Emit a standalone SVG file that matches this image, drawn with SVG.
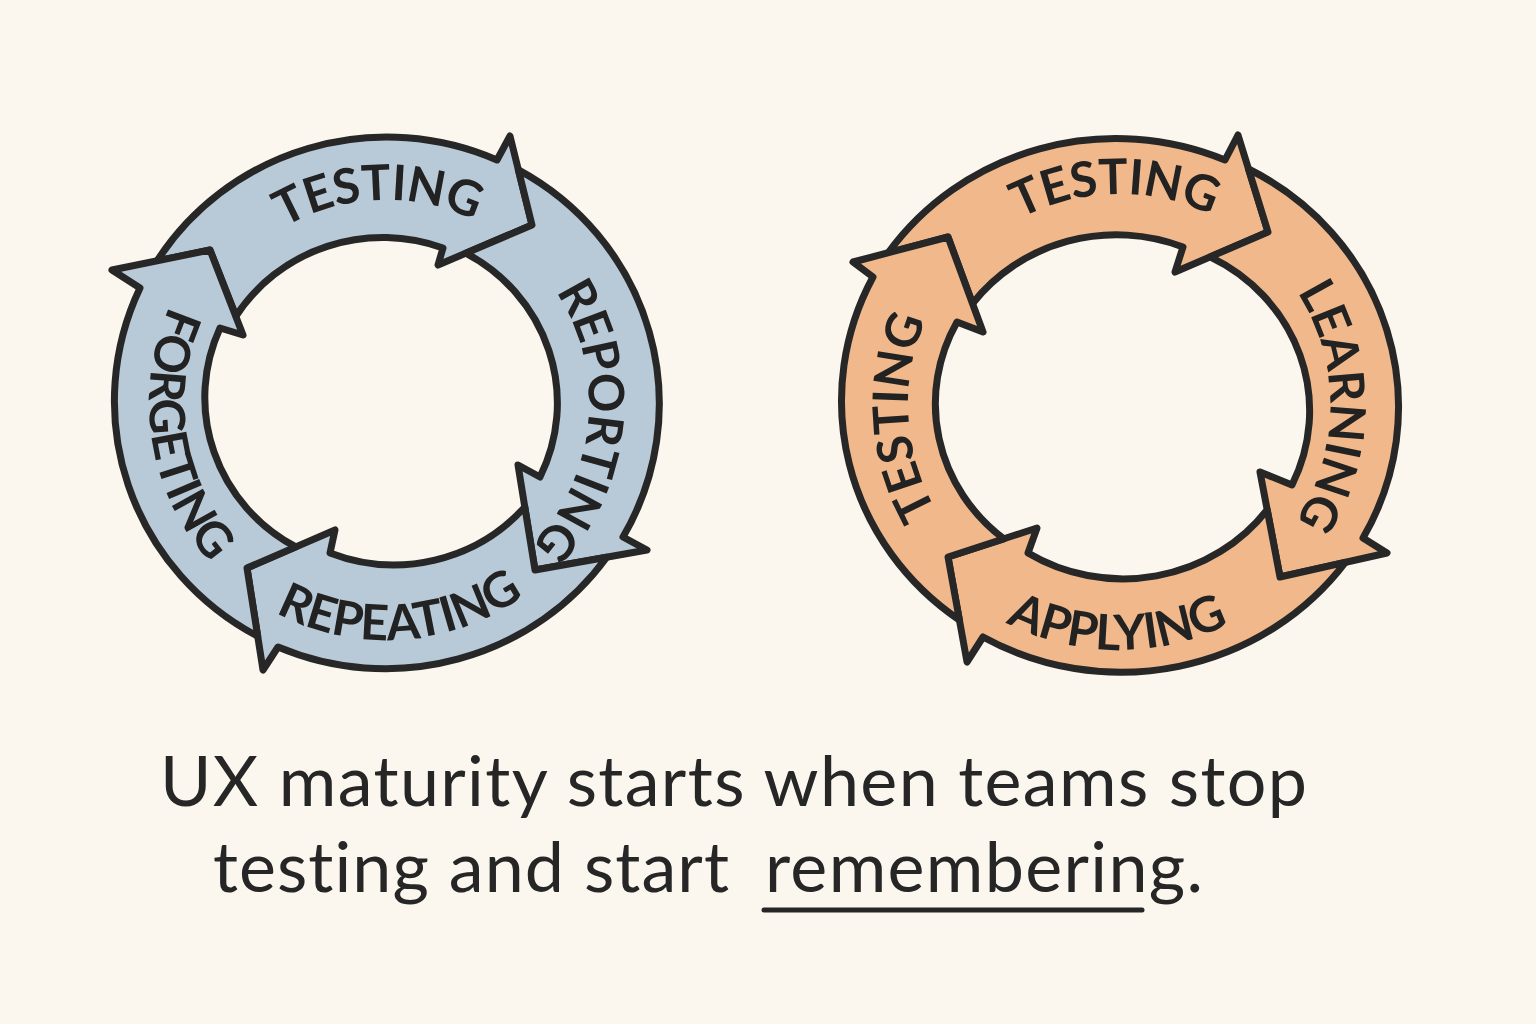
<svg xmlns="http://www.w3.org/2000/svg" width="1536" height="1024" viewBox="0 0 1536 1024">
  <style>
    .arrow { stroke: #272727; stroke-width: 7; stroke-linejoin: round; stroke-linecap: round; }
    .blue { fill: #b8cad8; }
    .orange { fill: #f1b98b; }
    .lbl { font-family: Lato, "Open Sans", "Liberation Sans", sans-serif; font-weight: 700; font-size: 49px; fill: #222222; letter-spacing: -0.5px; }
    .caption { font-family: Lato, "Open Sans", "Liberation Sans", sans-serif; font-size: 70px; fill: #262626; font-variant-ligatures: none; }
  </style>
  <defs>
    <path id="p-l-testing" d="M206.4,308.3 A203,203 0 0 1 557.8,294.8"/>
    <path id="p-l-reporting" d="M503.3,237.3 A203,203 0 0 1 470.8,587.4"/>
    <path id="p-l-repeating" d="M189.1,534.8 A237,237 0 0 0 598.7,507.6"/>
    <path id="p-l-forgeting" d="M236.9,218.8 A237,237 0 0 0 301.1,624.3"/>
    <path id="p-r-testing-top" d="M934.3,303 A211,211 0 0 1 1299.7,296"/>
    <path id="p-r-learning" d="M1225.5,222.8 A211,211 0 0 1 1223.6,588.3"/>
    <path id="p-r-applying" d="M905.8,525.6 A245,245 0 0 0 1330.1,529.3"/>
    <path id="p-r-testing-left" d="M1024.2,593.5 A211,211 0 0 1 1003.2,228.6"/>
  </defs>
  <rect x="0" y="0" width="1536" height="1024" fill="#fbf7ee"/>

  <g id="left-cycle">
    <g id="l-testing">
      <path class="arrow blue" d="M157,261 A272,267 0 0 1 497,160 L510,136 L532,225 L438,265 L443,248 A174,170 0 0 0 236,316 L210,250 Z"/>
      <text class="lbl"><textPath href="#p-l-testing" startOffset="50%" text-anchor="middle">TESTING</textPath></text>
    </g>
    <g id="l-reporting">
      <path class="arrow blue" d="M518.4,169.8 A272,267 0 0 1 623,537 L647,550 L535,570 L518,465 L540,477 A174,170 0 0 0 465.8,253.2 L532,225 Z"/>
      <text class="lbl"><textPath href="#p-l-reporting" startOffset="50%" text-anchor="middle">REPORTING</textPath></text>
    </g>
    <g id="l-repeating">
      <path class="arrow blue" d="M606.7,557.2 A272,267 0 0 1 278,647 L263,670 L247,568 L335,530 L330,553 A174,170 0 0 0 524.8,507 L535,570 Z"/>
      <text class="lbl"><textPath href="#p-l-repeating" startOffset="50%" text-anchor="middle">REPEATING</textPath></text>
    </g>
    <g id="l-forgeting">
      <path class="arrow blue" d="M257.7,636.3 A272,267 0 0 1 140,288 L112,270 L210,250 L243,335 L220,328 A174,170 0 0 0 295.8,546.9 L247,568 Z"/>
      <text class="lbl"><textPath href="#p-l-forgeting" startOffset="50%" text-anchor="middle">FORGETING</textPath></text>
    </g>
  </g>

  <g id="right-cycle">
    <g id="r-testing-top">
      <path class="arrow orange" d="M888.2,252.8 A278,268 0 0 1 1225,160 L1238,135 L1268,232 L1175,272 L1183,247 A180,172 0 0 0 972.5,303.5 L948,237 Z"/>
      <text class="lbl"><textPath href="#p-r-testing-top" startOffset="50%" text-anchor="middle">TESTING</textPath></text>
    </g>
    <g id="r-learning">
      <path class="arrow orange" d="M1248.5,169 A278,268 0 0 1 1363,538 L1387,553 L1280,577 L1260,472 L1292,485 A180,172 0 0 0 1210.1,256.9 L1268,232 Z"/>
      <text class="lbl"><textPath href="#p-r-learning" startOffset="50%" text-anchor="middle">LEARNING</textPath></text>
    </g>
    <g id="r-applying">
      <path class="arrow orange" d="M1345.3,562.4 A278,268 0 0 1 983,637 L967,662 L948,557 L1037,528 L1028,553 A180,172 0 0 0 1267.2,509.8 L1280,577 Z"/>
      <text class="lbl"><textPath href="#p-r-applying" startOffset="50%" text-anchor="middle">APPLYING</textPath></text>
    </g>
    <g id="r-testing-left">
      <path class="arrow orange" d="M959.4,620 A278,268 0 0 1 873,277 L853,262 L948,237 L983,332 L957,322 A180,172 0 0 0 1003.8,538.8 L948,557 Z"/>
      <text class="lbl"><textPath href="#p-r-testing-left" startOffset="50%" text-anchor="middle">TESTING</textPath></text>
    </g>
  </g>

  <g id="connectors"></g>

  <g id="caption">
    <text class="caption" x="160" y="806" textLength="1147" lengthAdjust="spacing">UX maturity starts when teams stop</text>
    <text class="caption" x="213" y="892" textLength="516" lengthAdjust="spacing">testing and start</text>
    <text class="caption" x="765" y="892" textLength="438" lengthAdjust="spacing">remembering.</text>
    <line x1="764" y1="910" x2="1142" y2="910" stroke="#262626" stroke-width="5" stroke-linecap="round"/>
  </g>
</svg>
